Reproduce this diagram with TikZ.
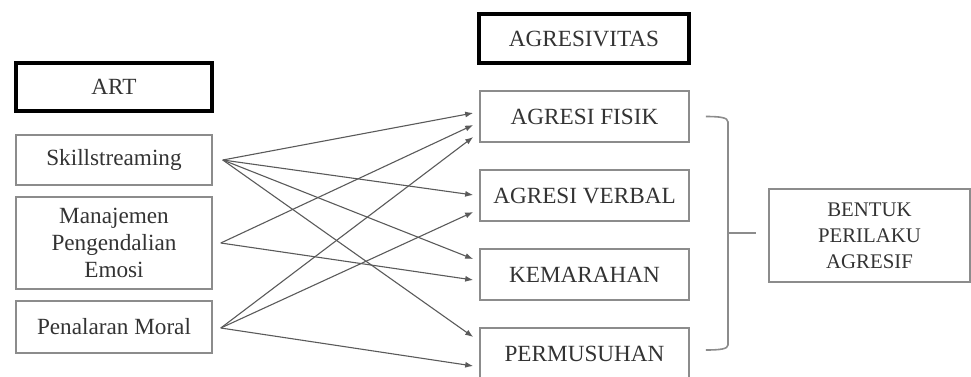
\documentclass[tikz,border=0pt]{standalone}
\usepackage{fontspec}
\setmainfont{Liberation Serif}
\usetikzlibrary{calc,arrows.meta}

\definecolor{boxgray}{HTML}{8C8C8C}
\definecolor{linegray}{HTML}{5A5A5A}
\definecolor{txtgray}{HTML}{333333}

\tikzset{
	box/.style={draw=boxgray, line width=0.8pt, inner sep=0pt, text=txtgray, align=center,
		font=\fontsize{11.6}{13.5}\selectfont},
	headbox/.style={box, draw=black, line width=1.6pt},
	arr/.style={linegray, line width=0.55pt, -{Latex[length=4pt,width=3pt]}},
}

\begin{document}
\begin{tikzpicture}[x=0.5pt, y=-0.5pt]
		\useasboundingbox (0,0) rectangle (971,376);

		% left column
		\node[headbox, minimum width=98pt, minimum height=24pt] (art) at (114,87) {ART};
		\node[box, minimum width=98pt, minimum height=25pt] (skill) at (114,160) {Skillstreaming};
		\node[box, minimum width=98pt, minimum height=46pt] (emosi) at (114,243) {Manajemen\\Pengendalian\\Emosi};
		\node[box, minimum width=98pt, minimum height=26pt] (moral) at (114,327) {Penalaran Moral};

		% right column
		\node[headbox, minimum width=105pt, minimum height=24.5pt] (agr) at (584,38.5) {AGRESIVITAS};
		\node[box, minimum width=104.5pt, minimum height=25.5pt] (fisik) at (584.5,116.5) {AGRESI FISIK};
		\node[box, minimum width=104.5pt, minimum height=25.5pt] (verbal) at (584.5,195.5) {AGRESI VERBAL};
		\node[box, minimum width=104.5pt, minimum height=25.5pt] (marah) at (584.5,274.5) {KEMARAHAN};
		\node[box, minimum width=104.5pt, minimum height=25.5pt] (musuh) at (584.5,353.5) {PERMUSUHAN};

		\node[box, minimum width=100.5pt, minimum height=46.5pt, font=\fontsize{10.4}{13}\selectfont] (bentuk) at (869.5,235.5) {BENTUK\\PERILAKU\\AGRESIF};

		% arrows
		\draw[arr] ($(skill.east)+(10,0)$) -- ($(fisik.west)+(-6,-3.5)$);
		\draw[arr] ($(skill.east)+(10,0)$) -- ($(verbal.west)+(-6,-0.5)$);
		\draw[arr] ($(skill.east)+(10,0)$) -- ($(marah.west)+(-6,-15.5)$);
		\draw[arr] ($(skill.east)+(10,0)$) -- ($(musuh.west)+(-6,-16.5)$);

		\draw[arr] ($(emosi.east)+(8,0)$) -- ($(fisik.west)+(-6,8.5)$);
		\draw[arr] ($(emosi.east)+(8,0)$) -- ($(marah.west)+(-6,5.5)$);

		\draw[arr] ($(moral.east)+(8,1)$) -- ($(fisik.west)+(-6,20.5)$);
		\draw[arr] ($(moral.east)+(8,1)$) -- ($(verbal.west)+(-6,16.5)$);
		\draw[arr] ($(moral.east)+(8,1)$) -- ($(musuh.west)+(-6,12.5)$);

		% bracket
		\coordinate (btop) at ($(fisik.east)+(16,0)$);
		\coordinate (bbot) at ($(musuh.east)+(16,-3.5)$);
		\draw[boxgray, line width=0.8pt] (btop) .. controls (720,116.5) and (728,117.5) .. (728,122) -- (728,345)
			.. controls (728,349) and (720,350) .. (bbot);
		\draw[boxgray, line width=0.8pt] (728,233) -- ($(bentuk.west)+(-12,-2.5)$);
	\end{tikzpicture}
\end{document}
